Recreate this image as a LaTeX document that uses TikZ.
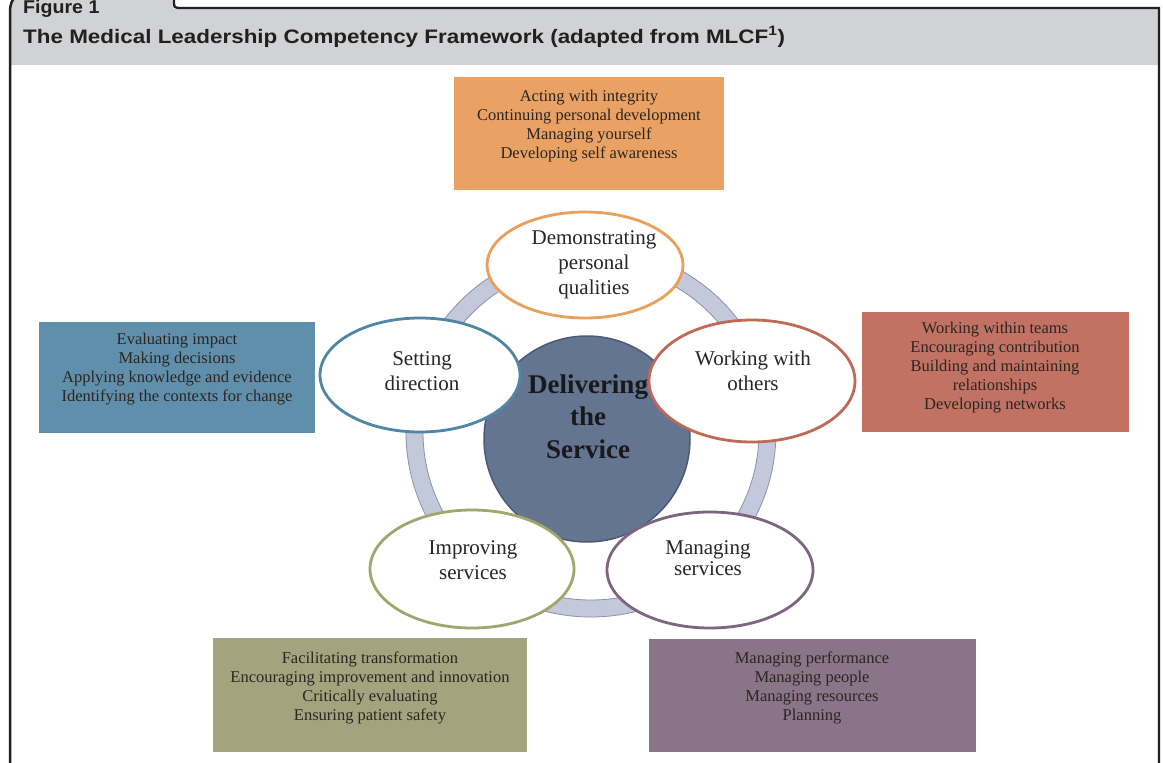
\documentclass[tikz,border=0pt]{standalone}
\usepackage{fontspec}
\setmainfont{Liberation Serif}
\newfontfamily\hdrfont[FakeStretch=1.15]{Liberation Sans}
\newfontfamily\figfont[FakeStretch=1.06]{Liberation Sans}
\usetikzlibrary{shapes.geometric}
\definecolor{hdrgray}{HTML}{D1D2D4}
\definecolor{framecol}{HTML}{231F20}
\definecolor{orangebox}{HTML}{E9A263}
\definecolor{bluebox}{HTML}{5F8FAA}
\definecolor{redbox}{HTML}{C27262}
\definecolor{olivebox}{HTML}{A3A47D}
\definecolor{purplebox}{HTML}{8A7487}
\definecolor{orangeline}{HTML}{E8A05C}
\definecolor{blueline}{HTML}{4F86A5}
\definecolor{redline}{HTML}{BD6A57}
\definecolor{oliveline}{HTML}{A0A66E}
\definecolor{purpleline}{HTML}{7D6580}
\definecolor{corefill}{HTML}{637591}
\definecolor{coreline}{HTML}{4B5B76}
\definecolor{ringfill}{HTML}{C3C8DA}
\definecolor{ringline}{HTML}{8A93AD}
\definecolor{txt}{HTML}{2B2523}
\tikzset{
  box/.style={rectangle, draw=none, inner sep=0, fill=#1},
  boxtext/.style={align=center, font=\fontsize{16.5}{19}\selectfont, text=txt, inner sep=0},
  comp/.style={ellipse, draw=#1, line width=2.8pt, fill=white, inner sep=0},
  comptext/.style={align=center, font=\fontsize{21}{25}\selectfont, text=black!85, inner sep=0},
  hdrtext/.style={anchor=base west, inner sep=0, text=framecol}
}
\begin{document}
\begin{tikzpicture}[x=1pt,y=-1pt]
\useasboundingbox (0,0) rectangle (1163,763);
\fill[white] (0,0) rectangle (1163,763);
% header band
\fill[hdrgray] (11,-4) rectangle (174,10);
\fill[hdrgray] (11,9) rectangle (1158,65);
\draw[framecol, line width=2.5pt] (10,770) -- (10,12) .. controls (10,4) and (12,0) .. (16,-4);
\draw[framecol, line width=2.3pt] (174,-4) -- (174,3) .. controls (174,7) and (175,8) .. (180,8) -- (1159,8) -- (1159,770);
\node[hdrtext, font=\figfont\bfseries\fontsize{18.5}{18.5}\selectfont] (fig) at (23,13.5) {Figure 1};
\node[hdrtext, font=\hdrfont\bfseries\fontsize{19.5}{19.5}\selectfont] (title) at (23,43) {The Medical Leadership Competency Framework (adapted from MLCF\textsuperscript{1})};

% ring
\fill[ringfill, draw=ringline, line width=0.8pt, even odd rule] (591,432) circle[radius=185pt] (591,432) circle[radius=168pt];

% core
\node[circle, fill=corefill, draw=coreline, line width=1.5pt, minimum size=206pt, inner sep=0] (core) at (587,439) {};

% competency ellipses
\node[comp=orangeline, minimum width=196pt, minimum height=106pt] (pq) at (585,265) {};
\node[comp=blueline, minimum width=200pt, minimum height=114pt] (sd) at (420,375) {};
\node[comp=redline, minimum width=206pt, minimum height=122pt] (wo) at (752,381) {};
\node[comp=oliveline, minimum width=204pt, minimum height=118pt] (is) at (472,569) {};
\node[comp=purpleline, minimum width=206pt, minimum height=116pt] (ms) at (710,570) {};

\node[comptext] (pqt) at (594,264.5) {Demonstrating\\personal\\qualities};
\node[comptext] (sdt) at (422,371) {Setting\\direction};
\node[comptext] (wot) at (753,371) {Working with\\others};
\node[comptext] (ist) at (473,560) {Improving\\services};
\node[comptext, font=\fontsize{21}{21}\selectfont] (mst) at (708,558) {Managing\\services};

\node[align=center, inner sep=0, text=black!90, font=\bfseries\fontsize{27}{32.5}\selectfont] (coret) at (588,416.5) {Delivering\\the\\Service};

% description boxes
\node[box=orangebox, minimum width=270pt, minimum height=113pt] (pqb) at (589,133.5) {};
\node[box=bluebox, minimum width=276pt, minimum height=111pt] (sdb) at (177,377.5) {};
\node[box=redbox, minimum width=267pt, minimum height=120pt] (wob) at (995.5,372) {};
\node[box=olivebox, minimum width=314pt, minimum height=114pt] (isb) at (370,695) {};
\node[box=purplebox, minimum width=327pt, minimum height=113pt] (msb) at (812.5,695.5) {};

\node[boxtext] (pqbt) at (589,126) {Acting with integrity\\Continuing personal development\\Managing yourself\\Developing self awareness};
\node[boxtext] (sdbt) at (177,369.5) {Evaluating impact\\Making decisions\\Applying knowledge and evidence\\Identifying the contexts for change};
\node[boxtext] (wobt) at (995,368) {Working within teams\\Encouraging contribution\\Building and maintaining\\relationships\\Developing networks};
\node[boxtext] (isbt) at (370,687.5) {Facilitating transformation\\Encouraging improvement and innovation\\Critically evaluating\\Ensuring patient safety};
\node[boxtext] (msbt) at (812,687.5) {Managing performance\\Managing people\\Managing resources\\Planning};
\end{tikzpicture}
\end{document}
